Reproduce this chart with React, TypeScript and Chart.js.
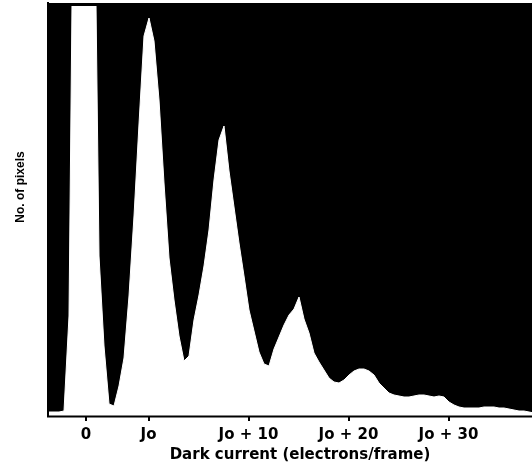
import React, { useEffect, useRef } from "react";
import { Chart, registerables } from "chart.js";

Chart.register(...registerables);

// Histogram bins (electrons/frame, relative to the "0" tick), bin centres start here
const BIN_START = -3.7;
const BIN_WIDTH = 0.5;

// Number of pixels per bin (arbitrary units; first peak is clipped)
const PIXEL_COUNTS = [
  40, 40, 40, 50, 1000, 6200, 6500, 6600, 6500, 5800,
  1600, 700, 120, 100, 300, 580, 1200, 2000, 2920, 3800,
  3980, 3750, 3160, 2330, 1580, 1160, 800, 550, 600, 960,
  1210, 1500, 1860, 2360, 2760, 2900, 2450, 2090, 1730, 1400,
  1060, 850, 640, 520, 500, 670, 790, 910, 1010, 1070,
  1190, 970, 830, 630, 540, 460, 380, 340, 330, 360,
  410, 450, 470, 470, 450, 410, 330, 280, 230, 210,
  200, 190, 190, 200, 210, 210, 200, 190, 200, 190,
  140, 110, 90, 80, 80, 80, 80, 90, 90, 90,
  80, 80, 70, 60, 50, 50, 40, 30,
];

const J0 = 6.25;
const TICK_VALUES = [0, J0, J0 + 10, J0 + 20, J0 + 30];
const TICK_LABELS = ["0", "Jo", "Jo + 10", "Jo + 20", "Jo + 30"];

const X_TITLE = "Dark current (electrons/frame)";
const Y_TITLE = "No. of pixels";

const X_MIN = -3.8;
const X_MAX = 44.6;
const Y_MAX = 4130;

const decorPlugin = {
  id: "decor",
  beforeDraw(chart: any) {
    const { ctx, chartArea } = chart;
    const { left, top, right, bottom } = chartArea;
    ctx.save();
    ctx.fillStyle = "#000";
    ctx.fillRect(left, top, right - left, bottom - top);
    ctx.restore();
  },
  afterDatasetsDraw(chart: any) {
    const { ctx, chartArea } = chart;
    const { left, top, right, bottom } = chartArea;
    ctx.save();
    ctx.fillStyle = "#000";
    // frame top line
    ctx.fillRect(left - 1, top, right - left + 1, 3);
    // x axis line
    ctx.fillRect(left - 1, bottom - 0.5, right - left + 1, 2);
    // left axis line
    ctx.fillRect(left - 1, top, 2, bottom - top + 1);

    // axis titles
    ctx.fillStyle = "#000";
    ctx.textAlign = "center";
    ctx.textBaseline = "middle";
    ctx.font = 'bold 15px "DejaVu Sans"';
    ctx.fillText(X_TITLE, 300, 455);

    ctx.translate(21, 187);
    ctx.rotate(-Math.PI / 2);
    ctx.font = 'bold 12px "Liberation Sans"';
    ctx.fillText(Y_TITLE, 0, 0);
    ctx.restore();
  },
};

export default function App() {
  const canvasRef = useRef<HTMLCanvasElement | null>(null);

  useEffect(() => {
    const canvas = canvasRef.current;
    if (!canvas) return;
    const points = PIXEL_COUNTS.map((c, i) => ({ x: BIN_START + i * BIN_WIDTH, y: c }));
    const chart = new Chart(canvas, {
      type: "line",
      data: {
        datasets: [
          {
            data: points,
            borderColor: "#fff",
            backgroundColor: "#fff",
            borderWidth: 1,
            pointRadius: 0,
            tension: 0,
            fill: "origin",
          },
        ],
      },
      options: {
        responsive: false,
        animation: false,
        devicePixelRatio: 1,
        layout: { padding: { top: 3, left: 0, right: 0, bottom: 0 } },
        plugins: {
          legend: { display: false },
          tooltip: { enabled: false },
        },
        scales: {
          x: {
            type: "linear",
            min: X_MIN,
            max: X_MAX,
            afterFit: (s: any) => {
              s.height = 53;
            },
            afterBuildTicks: (s: any) => {
              s.ticks = TICK_VALUES.map((v) => ({ value: v }));
            },
            ticks: {
              autoSkip: false,
              maxRotation: 0,
              minRotation: 0,
              padding: 5,
              color: "#000",
              font: { family: "DejaVu Sans", size: 15, weight: "bold" },
              callback: (_v: any, i: number) => TICK_LABELS[i] ?? "",
            },
            grid: {
              display: true,
              drawOnChartArea: false,
              drawTicks: true,
              tickLength: 5,
              color: "#000",
              lineWidth: 2,
            },
            border: { display: true, color: "#000", width: 2 },
          },
          y: {
            type: "linear",
            min: 0,
            max: Y_MAX,
            afterFit: (s: any) => {
              s.width = 48;
            },
            ticks: { display: false },
            grid: { display: false },
            border: { display: true, color: "#000", width: 2 },
          },
        },
      } as any,
      plugins: [decorPlugin],
    });
    return () => chart.destroy();
  }, []);

  return (
    <div style={{ position: "absolute", left: 0, top: 0, width: 532, height: 469, background: "#fff" }}>
      <canvas ref={canvasRef} width={532} height={469} style={{ display: "block" }} />
    </div>
  );
}
